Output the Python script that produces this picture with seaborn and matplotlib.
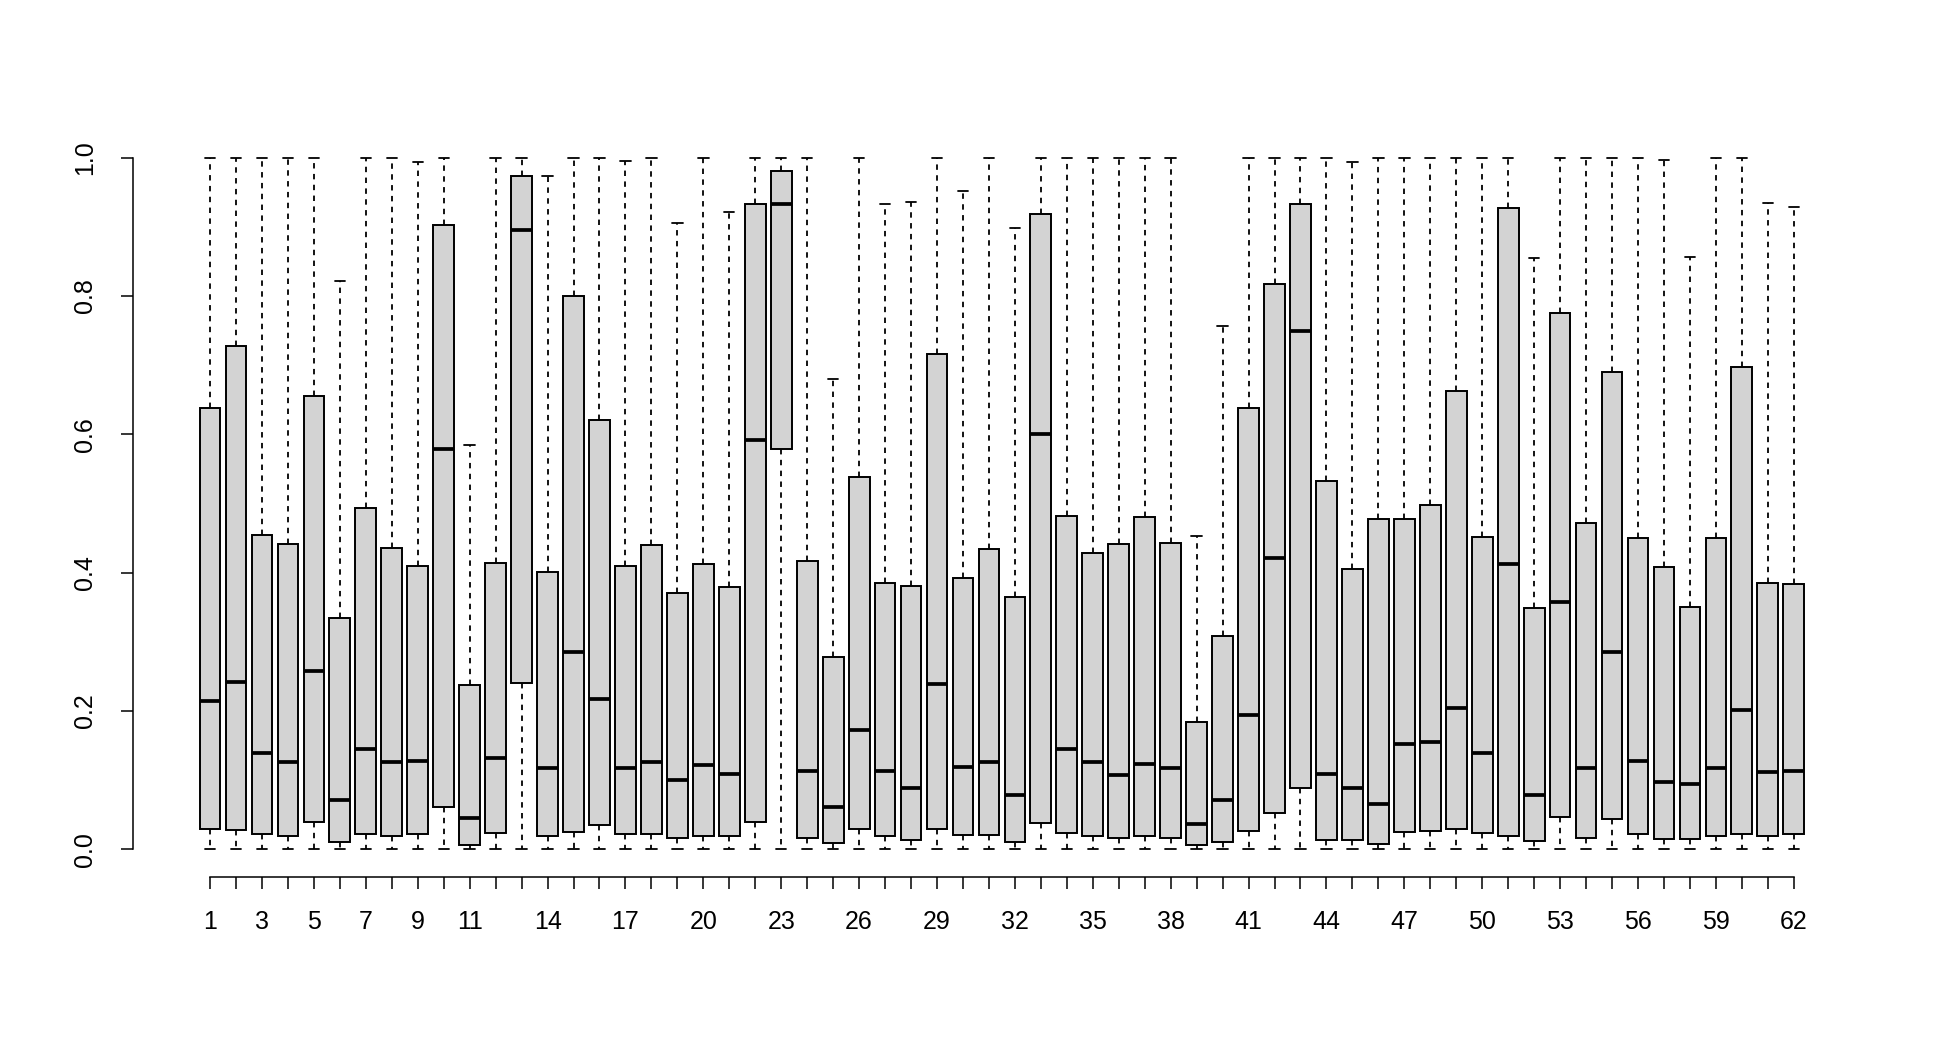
from __future__ import annotations

import matplotlib

matplotlib.use("Agg")
import matplotlib.pyplot as plt
import pandas as pd
import seaborn as sns

# Estadisticos (62 grupos)
GRUPOS = list(range(1, 63))
BIGOTE_INF = [0.0] * 62
Q1 = [
    0.030, 0.028, 0.023, 0.020, 0.040, 0.011, 0.022, 0.020, 0.023, 0.062,
    0.007, 0.024, 0.241, 0.020, 0.025, 0.035, 0.022, 0.022, 0.016, 0.020,
    0.020, 0.040, 0.579, 0.017, 0.010, 0.029, 0.020, 0.014, 0.029, 0.021,
    0.021, 0.011, 0.038, 0.024, 0.020, 0.016, 0.020, 0.017, 0.006, 0.011,
    0.026, 0.052, 0.089, 0.013, 0.013, 0.008, 0.025, 0.027, 0.029, 0.024,
    0.019, 0.012, 0.047, 0.017, 0.044, 0.023, 0.015, 0.015, 0.019, 0.022,
    0.019, 0.022,
]
MEDIANA = [
    0.215, 0.242, 0.139, 0.126, 0.258, 0.071, 0.145, 0.126, 0.128, 0.579,
    0.046, 0.132, 0.896, 0.118, 0.285, 0.218, 0.118, 0.127, 0.100, 0.122,
    0.109, 0.592, 0.933, 0.114, 0.061, 0.172, 0.114, 0.089, 0.239, 0.119,
    0.126, 0.078, 0.601, 0.145, 0.126, 0.107, 0.124, 0.117, 0.037, 0.071,
    0.194, 0.421, 0.750, 0.109, 0.089, 0.065, 0.152, 0.155, 0.204, 0.139,
    0.413, 0.079, 0.358, 0.118, 0.286, 0.128, 0.098, 0.094, 0.118, 0.202,
    0.112, 0.114,
]
Q3 = [
    0.638, 0.727, 0.455, 0.442, 0.656, 0.335, 0.493, 0.436, 0.410, 0.902,
    0.238, 0.414, 0.973, 0.401, 0.800, 0.621, 0.410, 0.440, 0.371, 0.413,
    0.380, 0.933, 0.980, 0.417, 0.278, 0.538, 0.385, 0.381, 0.716, 0.392,
    0.434, 0.365, 0.919, 0.482, 0.428, 0.441, 0.480, 0.443, 0.184, 0.309,
    0.638, 0.818, 0.933, 0.532, 0.405, 0.478, 0.478, 0.498, 0.662, 0.451,
    0.927, 0.349, 0.775, 0.472, 0.690, 0.450, 0.408, 0.351, 0.450, 0.698,
    0.385, 0.384,
]
BIGOTE_SUP = [
    1.000, 1.000, 1.000, 1.000, 1.000, 0.822, 1.000, 1.000, 0.993, 1.000,
    0.585, 1.000, 1.000, 0.974, 1.000, 1.000, 0.995, 1.000, 0.905, 1.000,
    0.921, 1.000, 1.000, 1.000, 0.680, 1.000, 0.933, 0.936, 1.000, 0.952,
    1.000, 0.898, 1.000, 1.000, 1.000, 1.000, 1.000, 1.000, 0.453, 0.757,
    1.000, 1.000, 1.000, 1.000, 0.993, 1.000, 1.000, 1.000, 1.000, 1.000,
    1.000, 0.855, 1.000, 1.000, 1.000, 1.000, 0.997, 0.857, 1.000, 1.000,
    0.935, 0.929,
]
ETIQUETAS_VISIBLES = [1, 3, 5, 7, 9, 11, 14, 17, 20, 23, 26, 29, 32, 35, 38,
                      41, 44, 47, 50, 53, 56, 59, 62]
Y_TICKS = [0.0, 0.2, 0.4, 0.6, 0.8, 1.0]


def construir_datos() -> pd.DataFrame:
    # cinco valores por grupo: min, Q1, mediana, Q3, max -> los cuartiles coinciden exactos
    filas = []
    for g, lo, a, m, b, hi in zip(GRUPOS, BIGOTE_INF, Q1, MEDIANA, Q3, BIGOTE_SUP):
        for v in (lo, a, m, b, hi):
            filas.append({"grupo": str(g), "valor": v})
    return pd.DataFrame(filas)


def dibujar() -> None:
    sns.set_style("white")
    plt.rcParams["font.family"] = ["Liberation Sans", "DejaVu Sans"]

    datos = construir_datos()
    fig = plt.figure(figsize=(19.37, 10.38), dpi=100)
    ax = fig.add_axes([0.0685, 0.155, 0.966 - 0.0685, 0.8748 - 0.155])

    sns.boxplot(
        data=datos,
        x="grupo",
        y="valor",
        order=[str(g) for g in GRUPOS],
        color="#D3D3D3",
        saturation=1,
        linecolor="black",
        linewidth=1.4,
        width=0.8,
        whis=(0, 100),
        showfliers=False,
        whiskerprops={"linestyle": (0, (3, 3)), "linewidth": 1.3},
        capprops={"linewidth": 1.3},
        medianprops={"linewidth": 2.7},
        ax=ax,
    )

    ax.set_xlim(-2.98, 63.98)
    ax.set_ylim(-0.04, 1.04)
    ax.set_xlabel("")
    ax.set_ylabel("")

    for lado in ("top", "right"):
        ax.spines[lado].set_visible(False)
    ax.spines["left"].set_bounds(0, 1)
    ax.spines["bottom"].set_bounds(0, 61)
    for lado in ("left", "bottom"):
        ax.spines[lado].set_linewidth(1.1)
        ax.spines[lado].set_color("black")

    ax.set_yticks(Y_TICKS)
    ax.set_yticklabels([f"{t:.1f}" for t in Y_TICKS], rotation=90, va="center")
    ax.set_xticks(range(len(GRUPOS)))
    ax.set_xticklabels([str(g) if g in ETIQUETAS_VISIBLES else "" for g in GRUPOS])
    ax.tick_params(axis="y", direction="out", length=8.6, width=1.1, pad=17,
                   labelsize=18, left=True, color="black", labelcolor="black")
    ax.tick_params(axis="x", direction="out", length=8.6, width=1.1, pad=15,
                   labelsize=18, bottom=True, color="black", labelcolor="black")

    fig.savefig("out.png", dpi=100)
    plt.close(fig)


if __name__ == "__main__":
    dibujar()
